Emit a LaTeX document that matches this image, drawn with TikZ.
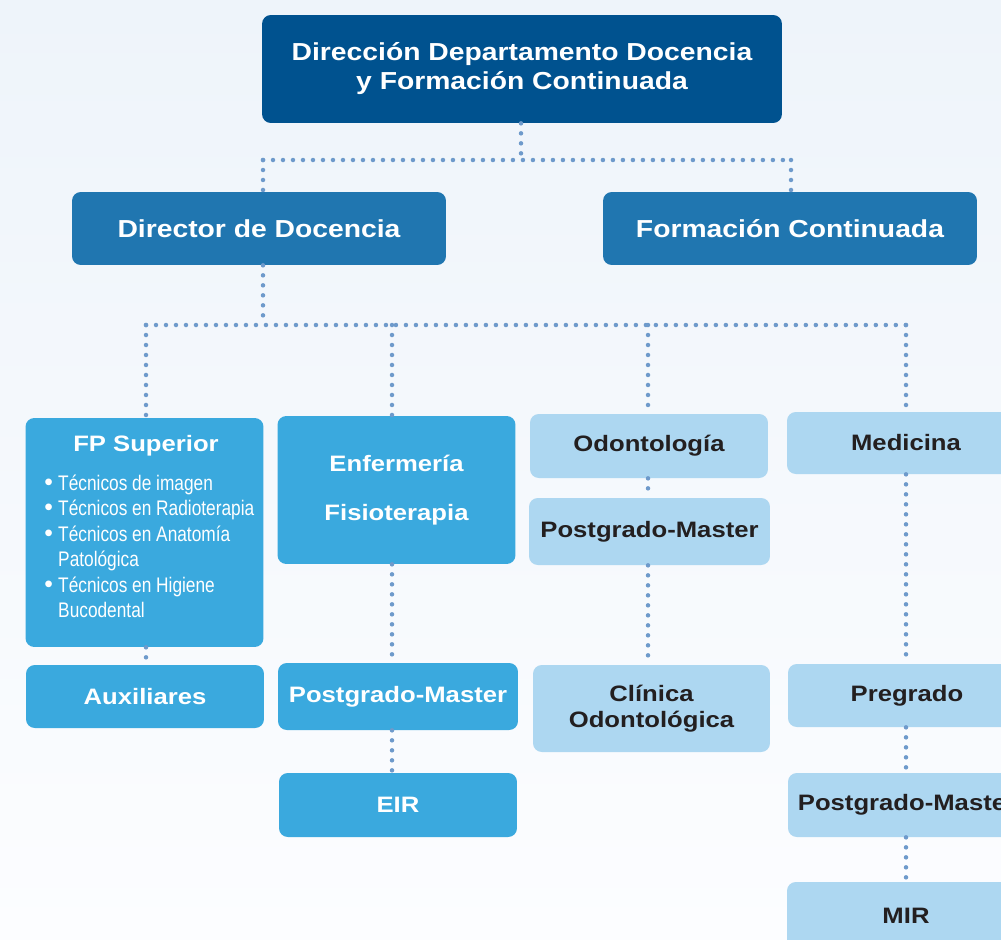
\documentclass[tikz,border=0pt]{standalone}
\usepackage{fontspec}
\setmainfont{Liberation Sans}[FakeStretch=1.15]
\newfontfamily\condfont{Liberation Sans}[FakeStretch=0.82]
\newfontfamily\plainfont{Liberation Sans}
\newcommand{\dotitem}{{\plainfont\fontsize{14}{14}\selectfont•}}
\definecolor{topblue}{RGB}{0,82,143}
\definecolor{midblue}{RGB}{32,118,176}
\definecolor{brightblue}{RGB}{58,169,222}
\definecolor{lightblue}{RGB}{173,215,241}
\definecolor{dotblue}{RGB}{110,154,203}
\definecolor{darktext}{RGB}{35,31,32}
\definecolor{bgtop}{RGB}{238,244,250}
\definecolor{bgbot}{RGB}{252,253,255}
\begin{document}
\begin{tikzpicture}[x=0.02cm,y=-0.02cm]
	\tikzset{box/.style={rounded corners=5pt, inner sep=0pt, align=center, font=\bfseries\fontsize{12.7}{15}\selectfont},
		head/.style={box, fill=topblue, text=white, minimum width=10.4cm, minimum height=2.16cm, font=\bfseries\fontsize{14}{16.5}\selectfont},
		sub/.style={box, fill=midblue, text=white, minimum width=7.48cm, minimum height=1.46cm, font=\bfseries\fontsize{14}{16.5}\selectfont},
		bright/.style={box, fill=brightblue, text=white, minimum width=4.76cm},
		pale/.style={box, fill=lightblue, text=darktext, minimum width=4.76cm},
		link/.style={dotblue, line width=0.09cm, line cap=round, dash pattern=on 0pt off 0.2cm}};
	\useasboundingbox (0,0) rectangle (1001,940);
	\clip (0,0) rectangle (1001,940);
	\shade[top color=bgtop, bottom color=bgbot] (0,0) rectangle (1001,940);

	\node[head] (dir) at (522,69) {Dirección Departamento Docencia\\y Formación Continuada};
	\node[sub] (doc) at (259,228.5) {Director de Docencia};
	\node[sub] (form) at (790,228.5) {Formación Continuada};

	\node[bright, minimum height=4.58cm] (fp) at (144.5,532.5) {};
	\node[text=white, font=\bfseries\fontsize{12.7}{15}\selectfont] (fptitle) at (146,446) {FP Superior};
	\node[anchor=north west, text=white, inner sep=0pt, font=\condfont\fontsize{12}{14.5}\selectfont] (fplist) at (44,472)
		{\begin{tabular}{@{}l@{\hspace{3pt}}l@{}}
			\dotitem & Técnicos de imagen\\
			\dotitem & Técnicos en Radioterapia\\
			\dotitem & Técnicos en Anatomía\\
			  & Patológica\\
			\dotitem & Técnicos en Higiene\\
			  & Bucodental
		\end{tabular}};
	\node[bright, minimum height=2.96cm] (enf) at (396.5,490) {Enfermería\\[13pt]Fisioterapia};
	\node[pale, minimum height=1.28cm] (odo) at (649,446) {Odontología};
	\node[pale, minimum height=1.24cm] (med) at (906,443) {Medicina};

	\node[bright, minimum height=1.26cm] (aux) at (145,696.5) {Auxiliares};
	\node[bright, minimum width=4.8cm, minimum height=1.34cm] (enfpm) at (398,696.5) {Postgrado-Master};
	\node[bright, minimum height=1.28cm] (eir) at (398,805) {EIR};
	\node[pale, minimum width=4.82cm, minimum height=1.34cm] (odopm) at (649.5,531.5) {Postgrado-Master};
	\node[pale, minimum width=4.74cm, minimum height=1.74cm] (clin) at (651.5,708.5) {Clínica\\Odontológica};
	\node[pale, minimum height=1.26cm] (preg) at (907,695.5) {Pregrado};
	\node[pale, minimum height=1.28cm] (medpm) at (907,805) {Postgrado-Master};
	\node[pale, minimum height=1.56cm] (mir) at (906,921) {\raisebox{0.21cm}{MIR}};

	\coordinate (j1) at (521,160);
	\coordinate (j1l) at (263,160);
	\coordinate (j1r) at (791,160);
	\coordinate (j2) at (263,325);
	\coordinate (j2a) at (146,325);
	\coordinate (j2b) at (392,325);
	\coordinate (j2c) at (648,325);
	\coordinate (j2d) at (906,325);

	\draw[link] (dir.south -| j1) -- (j1);
	\draw[link] (j1l) -- (j1r);
	\draw[link] (j1l) -- (j1l |- doc.north);
	\draw[link] (j1r) -- (j1r |- form.north);
	\draw[link] (doc.south -| j2) -- (j2);
	\draw[link] (j2a) -- (j2d);
	\draw[link] (j2a) -- (j2a |- fp.north);
	\draw[link] (j2b) -- (j2b |- enf.north);
	\draw[link] (j2c) -- (j2c |- odo.north);
	\draw[link] (j2d) -- (j2d |- med.north);

	\draw[link] (fp.south -| j2a) -- (aux.north -| j2a);
	\draw[link] (enf.south -| j2b) -- (enfpm.north -| j2b);
	\draw[link] (enfpm.south -| j2b) -- (eir.north -| j2b);
	\draw[link] (odo.south -| j2c) -- (odopm.north -| j2c);
	\draw[link] (odopm.south -| j2c) -- (clin.north -| j2c);
	\draw[link] (med.south -| j2d) -- (preg.north -| j2d);
	\draw[link] (preg.south -| j2d) -- (medpm.north -| j2d);
	\draw[link] (medpm.south -| j2d) -- (mir.north -| j2d);
\end{tikzpicture}
\end{document}
